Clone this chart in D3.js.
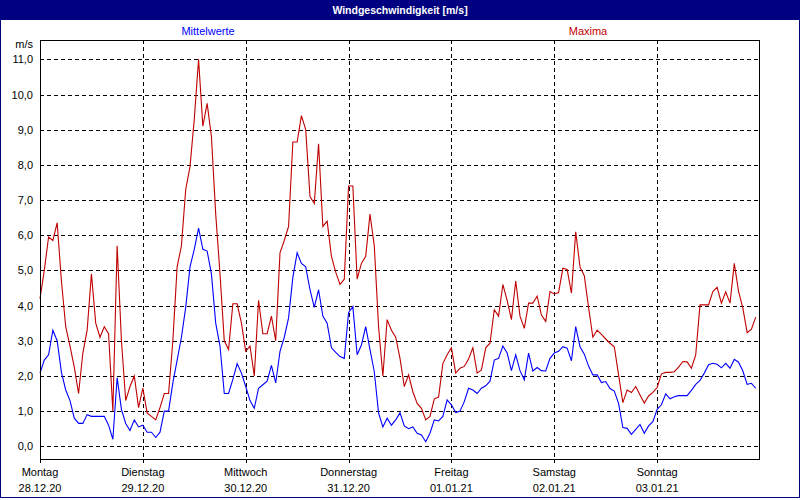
<!DOCTYPE html>
<html><head><meta charset="utf-8">
<script src="https://cdn.jsdelivr.net/npm/d3@7"></script>
<style>
html,body{margin:0;padding:0;background:#fff;}
svg text{font-family:"Liberation Sans Narrow","Liberation Sans",Arial,sans-serif;font-size:11px;}
</style></head>
<body>
<svg id="c" width="800" height="500"></svg>
<script>
const title = "Windgeschwindigkeit [m/s]";
const seriesNames = ["Mittelwerte", "Maxima"];
const dayNames = ["Montag","Dienstag","Mittwoch","Donnerstag","Freitag","Samstag","Sonntag"];
const dayDates = ["28.12.20","29.12.20","30.12.20","31.12.20","01.01.21","02.01.21","03.01.21"];
const yTicks = [0,1,2,3,4,5,6,7,8,9,10,11];
const yUnit = "m/s";
// hourly values, starting Montag 28.12.20 00:00
const mittelwerte = [
2.08,2.45,2.6,3.3,3.0,2.1,1.6,1.3,0.8,0.65,0.65,0.9,0.85,0.85,0.85,0.85,0.6,0.2,1.95,1.05,0.65,0.45,0.75,0.55,0.6,0.4,0.4,0.25,0.4,1.0,
1.0,1.8,2.45,3.1,3.95,5.1,5.6,6.2,5.6,5.55,4.9,3.5,2.85,1.5,1.5,1.9,2.35,2.08,1.7,1.3,1.08,1.65,1.75,1.85,2.3,1.8,2.7,3.1,3.65,4.8,
5.5,5.2,5.1,4.45,3.95,4.45,3.7,3.5,2.8,2.67,2.55,2.5,3.8,3.97,2.6,2.88,3.4,2.75,2.12,0.95,0.55,0.8,0.6,0.75,0.95,0.58,0.5,0.55,0.37,0.32,
0.13,0.37,0.75,0.72,0.85,1.32,1.18,0.96,1.0,1.27,1.65,1.6,1.5,1.65,1.72,1.85,2.45,2.5,2.85,2.65,2.15,2.6,2.15,1.89,2.65,2.14,2.24,2.15,2.14,2.5,
2.65,2.7,2.83,2.79,2.43,3.4,2.83,2.62,2.28,2.03,2.03,1.81,1.84,1.64,1.57,1.22,0.53,0.51,0.34,0.48,0.62,0.37,0.58,0.7,1.05,1.18,1.49,1.35,1.41,1.44,
1.44,1.44,1.59,1.76,1.87,2.08,2.32,2.36,2.33,2.23,2.36,2.22,2.47,2.39,2.14,1.76,1.79,1.65];
const maxima = [
4.2,5.0,5.95,5.85,6.35,4.7,3.4,2.85,2.25,1.5,2.65,3.3,4.9,3.5,3.1,3.4,3.2,1.0,5.7,3.0,1.3,1.7,2.0,1.1,1.65,0.95,0.85,0.75,1.1,1.5,
1.5,3.0,5.1,5.7,7.3,7.95,9.3,11.0,9.1,9.75,8.8,6.6,4.9,3.0,2.75,4.05,4.05,3.5,2.7,2.85,2.0,4.15,3.2,3.2,3.7,3.0,5.5,5.85,6.25,8.65,
8.65,9.4,9.0,7.1,6.9,8.6,6.25,6.4,5.4,4.95,4.6,4.75,7.4,7.4,4.75,5.2,5.4,6.6,5.7,3.4,2.0,3.6,3.3,3.1,2.5,1.7,2.03,1.55,1.22,1.08,
0.75,0.85,1.35,1.4,2.35,2.6,2.8,2.08,2.22,2.27,2.48,2.8,2.08,2.17,2.8,2.93,3.88,3.7,4.6,4.15,3.6,4.7,3.7,3.35,4.07,4.07,4.27,3.73,3.55,4.4,
4.33,4.37,5.06,5.03,4.35,6.1,5.1,4.85,3.95,3.1,3.3,3.18,3.05,2.93,2.83,2.03,1.24,1.6,1.53,1.7,1.46,1.23,1.43,1.53,1.67,2.06,2.1,2.1,2.12,2.25,
2.41,2.4,2.22,2.6,4.02,4.02,4.02,4.4,4.52,4.07,4.39,4.07,5.2,4.4,3.93,3.23,3.33,3.67];

const svg = d3.select("#c");
const W = 800, H = 500;
const L = 40, R = 760, T = 40, B = 460;
const navy = "#000080", blue = "#0000ff", red = "#c00000";

svg.append("rect").attr("x",0.5).attr("y",0.5).attr("width",W-1).attr("height",H-3)
  .attr("fill","#fff").attr("stroke",navy).attr("stroke-width",1);
svg.append("rect").attr("x",0).attr("y",0).attr("width",W).attr("height",20).attr("fill",navy);
svg.append("text").attr("x",W/2).attr("y",14).attr("text-anchor","middle")
  .style("font-family","'Liberation Sans',Arial,sans-serif").style("font-size","10.5px")
  .style("font-weight","bold").attr("fill","#fff").text(title);

svg.append("text").attr("x",208).attr("y",35).attr("text-anchor","middle").attr("fill",blue).text(seriesNames[0]);
svg.append("text").attr("x",588).attr("y",35).attr("text-anchor","middle").attr("fill",red).text(seriesNames[1]);

const x = d3.scaleLinear().domain([0, 168]).range([L, R]);
const y = d3.scaleLinear().domain([-0.39, 11.55]).range([B, T]);

// horizontal grid
const g = svg.append("g").attr("shape-rendering","crispEdges");
g.selectAll("line.h").data(yTicks).join("line")
  .attr("x1",L).attr("x2",R).attr("y1",d=>Math.round(y(d))+0.5).attr("y2",d=>Math.round(y(d))+0.5)
  .attr("stroke","#000").attr("stroke-dasharray","4,3");
// vertical day grid
const dayIdx = d3.range(dayNames.length);
g.selectAll("line.v").data(dayIdx.slice(1)).join("line")
  .attr("x1",d=>Math.round(x(d*24))+0.5).attr("x2",d=>Math.round(x(d*24))+0.5)
  .attr("y1",T).attr("y2",B+3)
  .attr("stroke","#000").attr("stroke-dasharray","4,3");

// y labels
svg.selectAll("text.yl").data(yTicks).join("text")
  .attr("x",33).attr("y",d=>Math.round(y(d))+4).attr("text-anchor","end").attr("fill","#000")
  .text(d=>d3.format(".1f")(d).replace(".",","));
svg.append("text").attr("x",33).attr("y",48).attr("text-anchor","end").attr("fill","#000").text(yUnit);

// day labels
svg.selectAll("text.dn").data(dayIdx).join("text")
  .attr("x",d=>x(d*24)).attr("y",476).attr("text-anchor","middle").attr("fill","#000").text(d=>dayNames[d]);
svg.selectAll("text.dd").data(dayIdx).join("text")
  .attr("x",d=>x(d*24)).attr("y",492).attr("text-anchor","middle").attr("fill","#000").text(d=>dayDates[d]);

// lines
const line = d3.line().x((d,i)=>x(i)).y(d=>y(d));
svg.append("path").datum(mittelwerte).attr("d",line).attr("fill","none").attr("stroke",blue).attr("stroke-width",1.1);
svg.append("path").datum(maxima).attr("d",line).attr("fill","none").attr("stroke",red).attr("stroke-width",1.1);

// frame
svg.append("rect").attr("x",L+0.5).attr("y",T+0.5).attr("width",R-L-1).attr("height",B-T-1)
  .attr("fill","none").attr("stroke","#000").attr("shape-rendering","crispEdges");
svg.append("line").attr("x1",L+0.5).attr("x2",L+0.5).attr("y1",B).attr("y2",B+3).attr("stroke","#000").attr("shape-rendering","crispEdges");
</script>
</body></html>
